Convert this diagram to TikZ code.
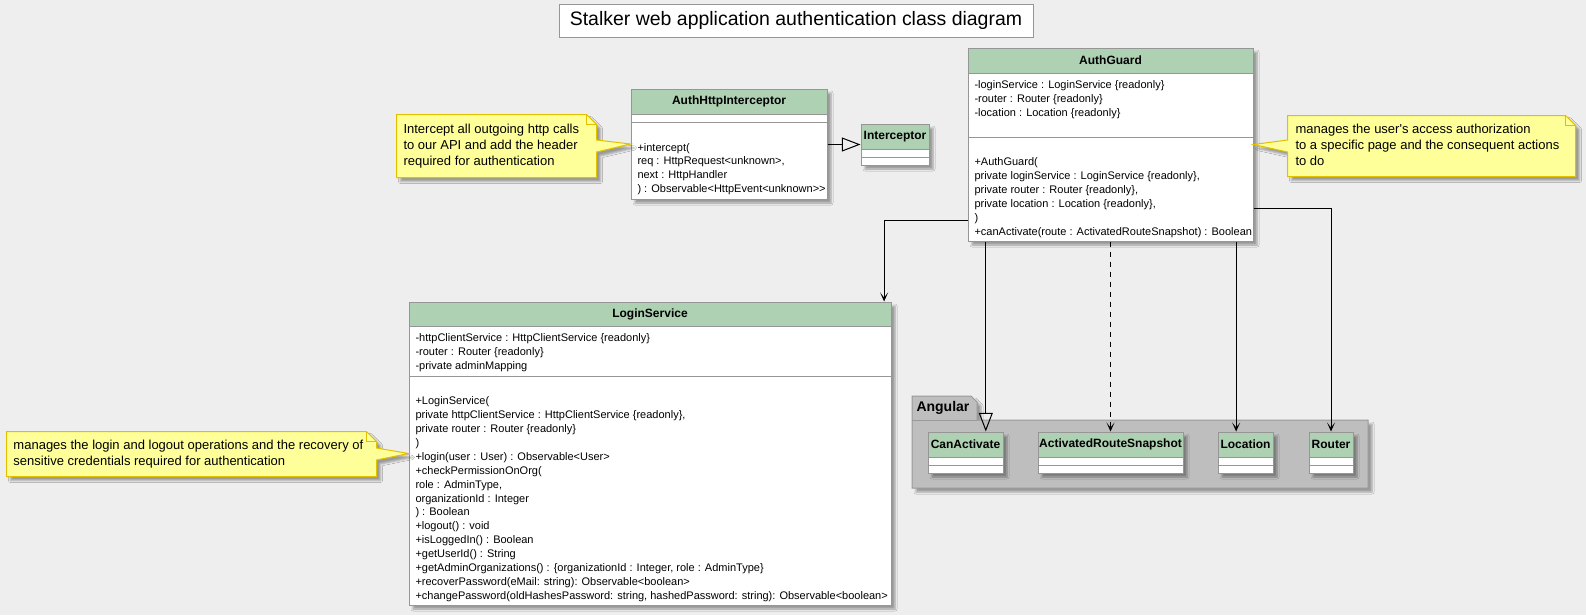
\documentclass[tikz,border=0pt]{standalone}
\usepackage{fontspec}
\setmainfont{Liberation Sans}
\usetikzlibrary{fit, arrows.meta, shadows.blur}

\definecolor{backdrop}{HTML}{EEEEEE}
\definecolor{classhead}{HTML}{ADD1B2}
\definecolor{classline}{HTML}{969696}
\definecolor{notefill}{HTML}{FFFF99}
\definecolor{noteline}{HTML}{E2C000}
\definecolor{pkgfill}{HTML}{BEBEBE}
\definecolor{pkgline}{HTML}{999999}

\begin{document}
\begin{tikzpicture}[x=0.75pt, y=-0.75pt, line width=0.75pt,
                    castshadow/.style={blur shadow={shadow xshift=3pt, shadow yshift=-3pt,
                                       shadow blur radius=1.5pt, shadow opacity=35}},
                    titlebox/.style={rectangle, draw=classline, fill=white, inner sep=0pt,
                                     label={[inner sep=0pt, font=\fontsize{14.6pt}{17pt}\selectfont]center:#1}},
                    classbox/.style={rectangle, draw=classline, fill=white, inner sep=0pt, castshadow},
                    classtitle/.style={rectangle, draw=classline, fill=classhead, inner sep=0pt,
                                       label={[inner sep=0pt, font=\fontsize{9pt}{11pt}\bfseries\selectfont]center:#1}},
                    members/.style={anchor=base west, align=left, inner sep=0pt,
                                    font=\fontsize{8.25pt}{10.4pt}\selectfont},
                    notebox/.style={rectangle, inner sep=0pt},
                    notetext/.style={anchor=base west, align=left, inner sep=0pt,
                                     font=\fontsize{9.75pt}{12pt}\selectfont},
                    notepaint/.style={draw=noteline, fill=notefill, castshadow},
                    pkgpaint/.style={draw=pkgline, fill=pkgfill, castshadow},
                    pkglabel/.style={inner sep=0pt, font=\fontsize{10.5pt}{12pt}\bfseries\selectfont},
                    assoc/.style={-{Stealth[length=6.75pt, width=6pt, inset=3.75pt]}},
                    realize/.style={-{Triangle[open, length=14pt, width=10.5pt]}},
                    depend/.style={assoc, dash pattern=on 3.75pt off 3.75pt}]
  % Canvas.
  \path [use as bounding box, fill=backdrop] (0, 0) rectangle (1586, 615);

  % Title.
  \node [titlebox={Stalker web application authentication class diagram},
         fit={(559, 4) (1033, 37)}, name=Title] {};

  % Package.
  \draw [pkgpaint] (912, 420) -- (912, 396) -- (971, 396) -- (977, 402)
                   -- (977, 420) -- (1368, 420) -- (1368, 488) -- (912, 488) -- cycle;
  \draw [pkgline] (912, 420) -- (977, 420);
  \node at (916, 408) [pkglabel, anchor=west, name=Angular] {Angular};

  % Classes (text nodes sit on the baseline of their last line).
  \node [classbox, fit={(631, 89) (827, 199)}, name=AuthHttpInterceptor] {};
  \node [classtitle=AuthHttpInterceptor, fit={(631, 89) (827, 114)}, name=AuthHttpInterceptorTitle] {};
  \draw [classline] (631, 122) -- (827, 122);
  \node at (637, 192.6) [members, name=AuthHttpInterceptorOps]
        {+intercept(\\req : HttpRequest<unknown>,\\next : HttpHandler\\) : Observable<HttpEvent<unknown>{}>};

  \node [classbox, fit={(861, 124) (929, 165)}, name=Interceptor] {};
  \node [classtitle=Interceptor, fit={(861, 124) (929, 149)}, name=InterceptorTitle] {};
  \draw [classline] (861, 157) -- (929, 157);

  \node [classbox, fit={(968, 48) (1253, 241)}, name=AuthGuard] {};
  \node [classtitle=AuthGuard, fit={(968, 48) (1253, 73)}, name=AuthGuardTitle] {};
  \draw [classline] (968, 137) -- (1253, 137);
  \node at (974, 116.7) [members, name=AuthGuardFields]
        {-loginService : LoginService \{readonly\}\\-router : Router \{readonly\}\\-location : Location \{readonly\}};
  \node at (974, 235.3) [members, name=AuthGuardOps]
        {+AuthGuard(\\private loginService : LoginService \{readonly\},\\private router : Router \{readonly\},\\%
         private location : Location \{readonly\},\\)\\+canActivate(route : ActivatedRouteSnapshot) : Boolean};

  \node [classbox, fit={(409, 302) (891, 605)}, name=LoginService] {};
  \node [classtitle=LoginService, fit={(409, 302) (891, 326)}, name=LoginServiceTitle] {};
  \draw [classline] (409, 376) -- (891, 376);
  \node at (415, 369.7) [members, name=LoginServiceFields]
        {-httpClientService : HttpClientService \{readonly\}\\-router : Router \{readonly\}\\-private adminMapping};
  \node at (415, 599.1) [members, name=LoginServiceOps]
        {+LoginService(\\private httpClientService : HttpClientService \{readonly\},\\private router : Router \{readonly\}\\)\\%
         +login(user : User) : Observable<User>\\+checkPermissionOnOrg(\\role : AdminType,\\organizationId : Integer\\%
         ) : Boolean\\+logout() : void\\+isLoggedIn() : Boolean\\+getUserId() : String\\%
         +getAdminOrganizations() : \{organizationId : Integer, role : AdminType\}\\%
         +recoverPassword(eMail: string): Observable<boolean>\\%
         +changePassword(oldHashesPassword: string, hashedPassword: string): Observable<boolean>};

  % Angular classes.
  \node [classbox, fit={(928, 432) (1003, 473)}, name=CanActivate] {};
  \node [classtitle=CanActivate, fit={(928, 432) (1003, 457)}, name=CanActivateTitle] {};
  \draw [classline] (928, 465) -- (1003, 465);

  \node [classbox, fit={(1038, 432) (1183, 473)}, name=Snapshot] {};
  \node [classtitle=ActivatedRouteSnapshot, fit={(1038, 432) (1183, 457)}, name=SnapshotTitle] {};
  \draw [classline] (1038, 465) -- (1183, 465);

  \node [classbox, fit={(1218, 432) (1273, 473)}, name=Location] {};
  \node [classtitle=Location, fit={(1218, 432) (1273, 457)}, name=LocationTitle] {};
  \draw [classline] (1218, 465) -- (1273, 465);

  \node [classbox, fit={(1309, 432) (1353, 473)}, name=Router] {};
  \node [classtitle=Router, fit={(1309, 432) (1353, 457)}, name=RouterTitle] {};
  \draw [classline] (1309, 465) -- (1353, 465);

  % Notes.
  \node [notebox, fit={(397, 115) (596, 177)}, name=InterceptNote] {};
  \draw [notepaint] (InterceptNote.north west)
                    -- ([xshift=-7.5pt]InterceptNote.north east)
                    -- ([yshift=-7.5pt]InterceptNote.north east)
                    -- ([yshift=4.5pt]InterceptNote.east)
                    -- (AuthHttpInterceptor.west)
                    -- ([yshift=-4.5pt]InterceptNote.east)
                    -- (InterceptNote.south east)
                    -- (InterceptNote.south west) -- cycle;
  \draw [noteline] ([xshift=-7.5pt]InterceptNote.north east)
                   |- ([yshift=-7.5pt]InterceptNote.north east);
  \node at (403, 165.5) [notetext, name=InterceptNoteText]
        {Intercept all outgoing http calls\\to our API and add the header\\required for authentication};

  \node [notebox, fit={(1288, 116) (1575, 176)}, name=GuardNote] {};
  \draw [notepaint] (GuardNote.north west)
                    -- ([xshift=-7.5pt]GuardNote.north east)
                    -- ([yshift=-7.5pt]GuardNote.north east)
                    -- (GuardNote.south east)
                    -- (GuardNote.south west)
                    -- ([yshift=-4.5pt]GuardNote.west)
                    -- (AuthGuard.east)
                    -- ([yshift=4.5pt]GuardNote.west) -- cycle;
  \draw [noteline] ([xshift=-7.5pt]GuardNote.north east)
                   |- ([yshift=-7.5pt]GuardNote.north east);
  \node at (1295, 165.5) [notetext, name=GuardNoteText]
        {manages the user\textquotesingle s access authorization\\to a specific page and the consequent actions\\to do};

  \node [notebox, fit={(7, 432) (376, 476)}, name=LoginNote] {};
  \draw [notepaint] (LoginNote.north west)
                    -- ([xshift=-7.5pt]LoginNote.north east)
                    -- ([yshift=-7.5pt]LoginNote.north east)
                    -- ([yshift=4.5pt]LoginNote.east)
                    -- (LoginService.west)
                    -- ([yshift=-4.5pt]LoginNote.east)
                    -- (LoginNote.south east)
                    -- (LoginNote.south west) -- cycle;
  \draw [noteline] ([xshift=-7.5pt]LoginNote.north east)
                   |- ([yshift=-7.5pt]LoginNote.north east);
  \node at (13, 465) [notetext, name=LoginNoteText]
        {manages the login and logout operations and the recovery of\\sensitive credentials required for authentication};

  % Relations.
  \draw [realize] (AuthHttpInterceptor.east |- Interceptor.west)
                  -- (Interceptor.west);
  \draw [assoc] (AuthGuard.208.5)
                -| (LoginService.33.6);
  \draw [realize] (AuthGuard.south -| CanActivate.46.4)
                  -- (CanActivate.46.4);
  \draw [depend] (AuthGuard.south)
                 -- (Snapshot.north);
  \draw [assoc] (AuthGuard.south -| Location.114.9)
                -- (Location.114.9);
  \draw [assoc] (AuthGuard.336)
                -| (Router.north);
\end{tikzpicture}
\end{document}
